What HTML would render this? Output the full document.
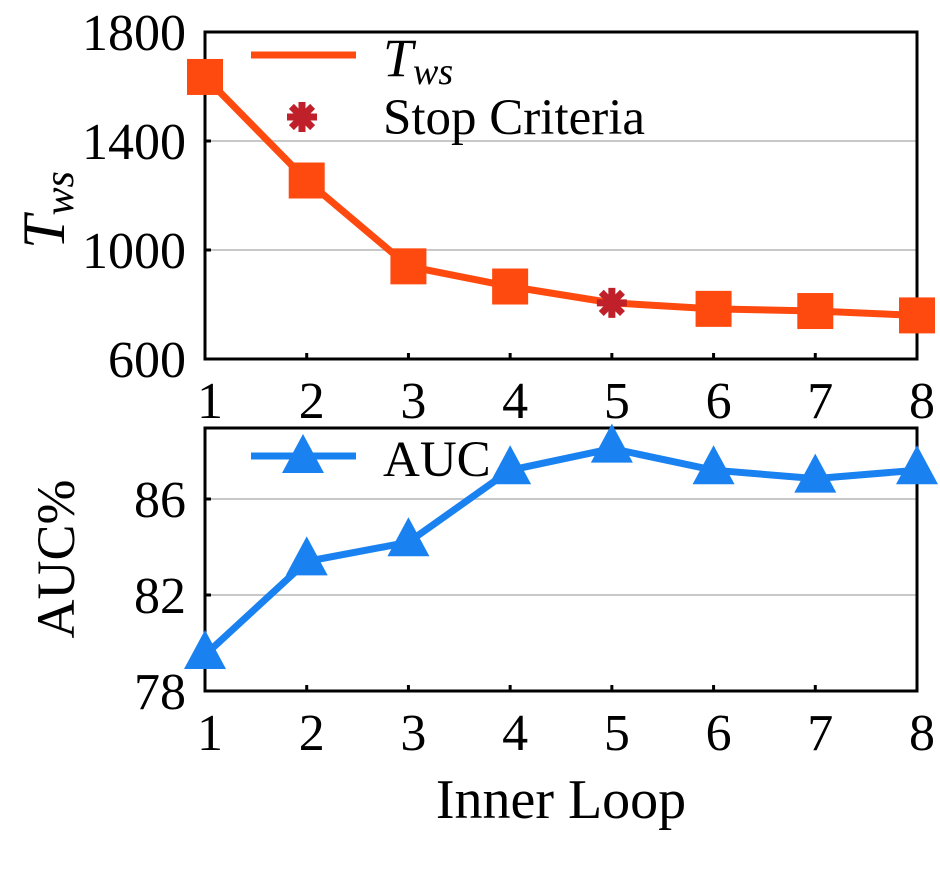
<!DOCTYPE html>
<html><head><meta charset="utf-8"><style>
body{margin:0;background:#fff}
svg text{font-family:"Liberation Serif",serif;fill:#000}
</style></head><body>
<svg id="c" width="940" height="880" xmlns="http://www.w3.org/2000/svg"></svg>
<script>
const categories=[1,2,3,4,5,6,7,8];
const twsValues=[1635,1255,940,866,806,784,776,760];
const stopIndex=4;
const aucValues=[79.5,83.4,84.2,87.2,88.1,87.2,86.85,87.2];
const twsTicks=[600,1000,1400,1800];
const aucTicks=[78,82,86];
const NS="http://www.w3.org/2000/svg";
const svg=document.getElementById('c');
function el(t,a,p){const e=document.createElementNS(NS,t);for(const k in a)e.setAttribute(k,a[k]);(p||svg).appendChild(e);return e;}
const X0=205,X1=917;
function x(v){return X0+(v-1)*(X1-X0)/7;}
function yT(v){return 359-(v-600)*(359-32)/1200;}
function yA(v){return 691-(v-78)*24;}
const orange="#ff4a0f",blue="#1a82f0";
const FS=52;
twsTicks.slice(1,3).forEach(t=>{const g=el('line',{x1:X0,x2:X1,y1:yT(t),y2:yT(t),stroke:'#c8c8c8','stroke-width':2});
});
aucTicks.slice(1).forEach(t=>{const g=el('line',{x1:X0,x2:X1,y1:yA(t),y2:yA(t),stroke:'#c8c8c8','stroke-width':2});
});
const f1=el('rect',{x:X0,y:32,width:X1-X0,height:327,fill:'none',stroke:'#000','stroke-width':3});

const f2=el('rect',{x:X0,y:428,width:X1-X0,height:263,fill:'none',stroke:'#000','stroke-width':3});

twsTicks.forEach(t=>{const tx=el('text',{x:186,y:yT(t)+18,'font-size':FS,'text-anchor':'end'});tx.textContent=t;

el('line',{x1:X0,x2:X0+6,y1:yT(t),y2:yT(t),stroke:'#000','stroke-width':3});});
aucTicks.forEach(t=>{const tx=el('text',{x:186,y:yA(t)+18,'font-size':FS,'text-anchor':'end'});tx.textContent=t;

el('line',{x1:X0,x2:X0+6,y1:yA(t),y2:yA(t),stroke:'#000','stroke-width':3});});
categories.forEach(c=>{
 [[418,359],[750,691]].forEach(([ly,by])=>{
  const tx=el('text',{x:x(c)+5,y:ly,'font-size':FS,'text-anchor':'middle'});tx.textContent=c;
  
  el('line',{x1:x(c),x2:x(c),y1:by,y2:by-6,stroke:'#000','stroke-width':3});
 });
});
const tl=el('polyline',{points:twsValues.map((v,i)=>x(categories[i])+','+yT(v)).join(' '),fill:'none',stroke:orange,'stroke-width':7});

twsValues.forEach((v,i)=>{ if(i===stopIndex)return;
 const r=el('rect',{x:x(categories[i])-18,y:yT(v)-18,width:36,height:36,fill:orange});
 });
function star(cx,cy,name){const g=el('g',{stroke:'#c0202a','stroke-width':7,'stroke-linecap':'butt'});
 
 for(let a=0;a<4;a++){const an=a*Math.PI/4;el('line',{x1:cx-15*Math.cos(an),y1:cy-15*Math.sin(an),x2:cx+15*Math.cos(an),y2:cy+15*Math.sin(an)},g);}}
star(x(categories[stopIndex]),yT(twsValues[stopIndex]),'stop-criteria-marker');
const al=el('polyline',{points:aucValues.map((v,i)=>x(categories[i])+','+yA(v)).join(' '),fill:'none',stroke:blue,'stroke-width':7});

function tri(cx,cy,name){const t=el('polygon',{points:`${cx},${cy-25} ${cx-21},${cy+14} ${cx+21},${cy+14}`,fill:blue});
 }
aucValues.forEach((v,i)=>tri(x(categories[i]),yA(v),'auc-marker'));
el('line',{x1:251,x2:356,y1:55,y2:55,stroke:orange,'stroke-width':7});
const l1=el('text',{x:383,y:76,'font-size':54,'font-style':'italic'});l1.innerHTML='T<tspan font-size="38" dy="8">ws</tspan>';

star(302,117,'legend-stop-marker');
const l2=el('text',{x:383,y:134,'font-size':51});l2.textContent='Stop Criteria';

el('line',{x1:251,x2:356,y1:456,y2:456,stroke:blue,'stroke-width':7});
tri(303,459,'legend-auc-marker');
const l3=el('text',{x:383,y:476,'font-size':51});l3.textContent='AUC';

const t1=el('text',{x:0,y:0,'font-size':60,'font-style':'italic','text-anchor':'middle',transform:'translate(64,210) rotate(-90)'});t1.innerHTML='T<tspan font-size="42" dy="9">ws</tspan>';

const t2=el('text',{x:0,y:0,'font-size':54,'text-anchor':'middle',transform:'translate(74,559) rotate(-90)'});t2.textContent='AUC%';

const t3=el('text',{x:561,y:818,'font-size':56,'text-anchor':'middle'});t3.textContent='Inner Loop';

</script>
</body></html>
